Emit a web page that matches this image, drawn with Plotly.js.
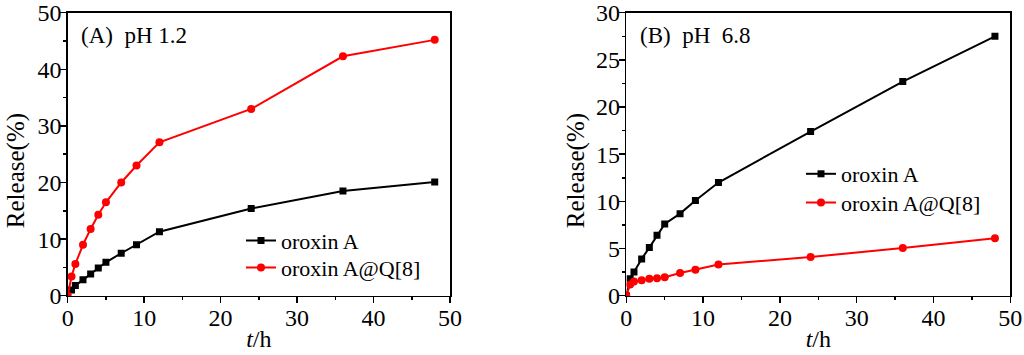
<!DOCTYPE html>
<html>
<head>
<meta charset="utf-8">
<script src="https://cdn.plot.ly/plotly-3.0.1.min.js"></script>
<style>html,body{margin:0;padding:0;background:#fff;}#chart{width:1024px;height:355px;}</style>
</head>
<body>
<div id="chart"></div>
<script>
const timeA = [0, 0.5, 1, 2, 3, 4, 5, 7, 9, 12, 24, 36, 48];
const freeA = [0, 1.0, 1.8, 2.8, 3.85, 4.9, 5.9, 7.5, 9.0, 11.3, 15.4, 18.5, 20.1];
const complexA = [0, 3.4, 5.6, 9.0, 11.8, 14.3, 16.5, 20.0, 23.0, 27.1, 33.0, 42.3, 45.2];

const timeB = [0, 0.5, 1, 2, 3, 4, 5, 7, 9, 12, 24, 36, 48];
const freeB = [0, 1.8, 2.5, 3.9, 5.1, 6.4, 7.6, 8.7, 10.1, 12.0, 17.4, 22.7, 27.5];
const complexB = [0, 1.2, 1.5, 1.65, 1.8, 1.85, 1.95, 2.4, 2.75, 3.3, 4.1, 5.05, 6.1];

const seriesNames = ['oroxin A', 'oroxin A@Q[8]'];
const panelLabels = ['(A)\u00a0\u00a0pH 1.2', '(B)\u00a0\u00a0pH\u00a0\u00a06.8'];
const yTitle = 'Release(%)';
const xTitle = '<i>t</i>/h';

const FONT = "'Liberation Serif'";
const black = '#000000', red = '#ff0000';

function tr(x, y, name, color, symbol, size, xa, ya, leg) {
  return {x: x, y: y, name: name, type: 'scatter', mode: 'lines+markers',
    xaxis: xa, yaxis: ya, legend: leg,
    line: {color: color, width: 2},
    marker: {color: color, symbol: symbol, size: size}};
}

const data = [
  tr(timeA, freeA, seriesNames[0], black, 'square', 7, 'x', 'y', 'legend'),
  tr(timeA, complexA, seriesNames[1], red, 'circle', 8, 'x', 'y', 'legend2'),
  tr(timeB, freeB, seriesNames[0], black, 'square', 7, 'x2', 'y2', 'legend3'),
  tr(timeB, complexB, seriesNames[1], red, 'circle', 8, 'x2', 'y2', 'legend4')
];

function ax(domain, range, dtick, anchor, titleText, standoff) {
  return {
    domain: domain, range: range, dtick: dtick, tick0: 0, anchor: anchor,
    showgrid: false, zeroline: false, showline: true, mirror: true,
    linecolor: '#000', linewidth: 1.5,
    ticks: 'outside', ticklen: 6, tickwidth: 1.5, tickcolor: '#000',
    ticklabelstandoff: -6,
    minor: {dtick: dtick / 2, ticks: 'outside', ticklen: 3, tickwidth: 1.5, tickcolor: '#000', showgrid: false},
    tickfont: {family: FONT, size: 24, color: '#000'},
    title: {text: titleText, font: {family: FONT, size: 24, color: '#000'}, standoff: standoff},
    fixedrange: true
  };
}

function leg(xpx, ypx) {
  return {x: xpx / 1024, y: 1 - ypx / 355, xanchor: 'left', yanchor: 'middle',
    bgcolor: 'rgba(0,0,0,0)', font: {family: FONT, size: 22, color: '#000'}};
}

function ytitleAnn(xpx, yref) {
  return {text: yTitle, xref: 'paper', yref: yref, x: xpx / 1024, y: 0.44,
    xanchor: 'center', yanchor: 'middle', textangle: -90, showarrow: false,
    font: {family: FONT, size: 25, color: '#000'}};
}

const ydom = [1 - 295.7 / 355, 1 - 12.7 / 355];
const layout = {
  width: 1024, height: 355,
  margin: {l: 0, r: 0, t: 0, b: 0},
  paper_bgcolor: '#fff', plot_bgcolor: '#fff',
  font: {family: FONT, color: '#000'},
  showlegend: true,
  xaxis: ax([67.7 / 1024, 450 / 1024], [0, 50], 10, 'y', xTitle, 0),
  yaxis: ax(ydom, [0, 50], 10, 'x', '', 4),
  xaxis2: ax([626.3 / 1024, 1010.3 / 1024], [0, 50], 10, 'y2', xTitle, 0),
  yaxis2: ax(ydom, [0, 30], 5, 'x2', '', 4),
  legend: leg(241, 240.7),
  legend2: leg(241, 267.7),
  legend3: leg(801, 174),
  legend4: leg(801, 202.7),
  annotations: [
    {text: panelLabels[0], xref: 'x domain', yref: 'y domain', x: 0.03, y: 0.92,
     xanchor: 'left', yanchor: 'middle', showarrow: false,
     font: {family: FONT, size: 23, color: '#000'}},
    {text: panelLabels[1], xref: 'x2 domain', yref: 'y2 domain', x: 0.03, y: 0.92,
     xanchor: 'left', yanchor: 'middle', showarrow: false,
     font: {family: FONT, size: 23, color: '#000'}},
    ytitleAnn(16, 'y domain'),
    ytitleAnn(576, 'y2 domain')
  ]
};

Plotly.newPlot('chart', data, layout, {displayModeBar: false, staticPlot: true});
</script>
</body>
</html>
